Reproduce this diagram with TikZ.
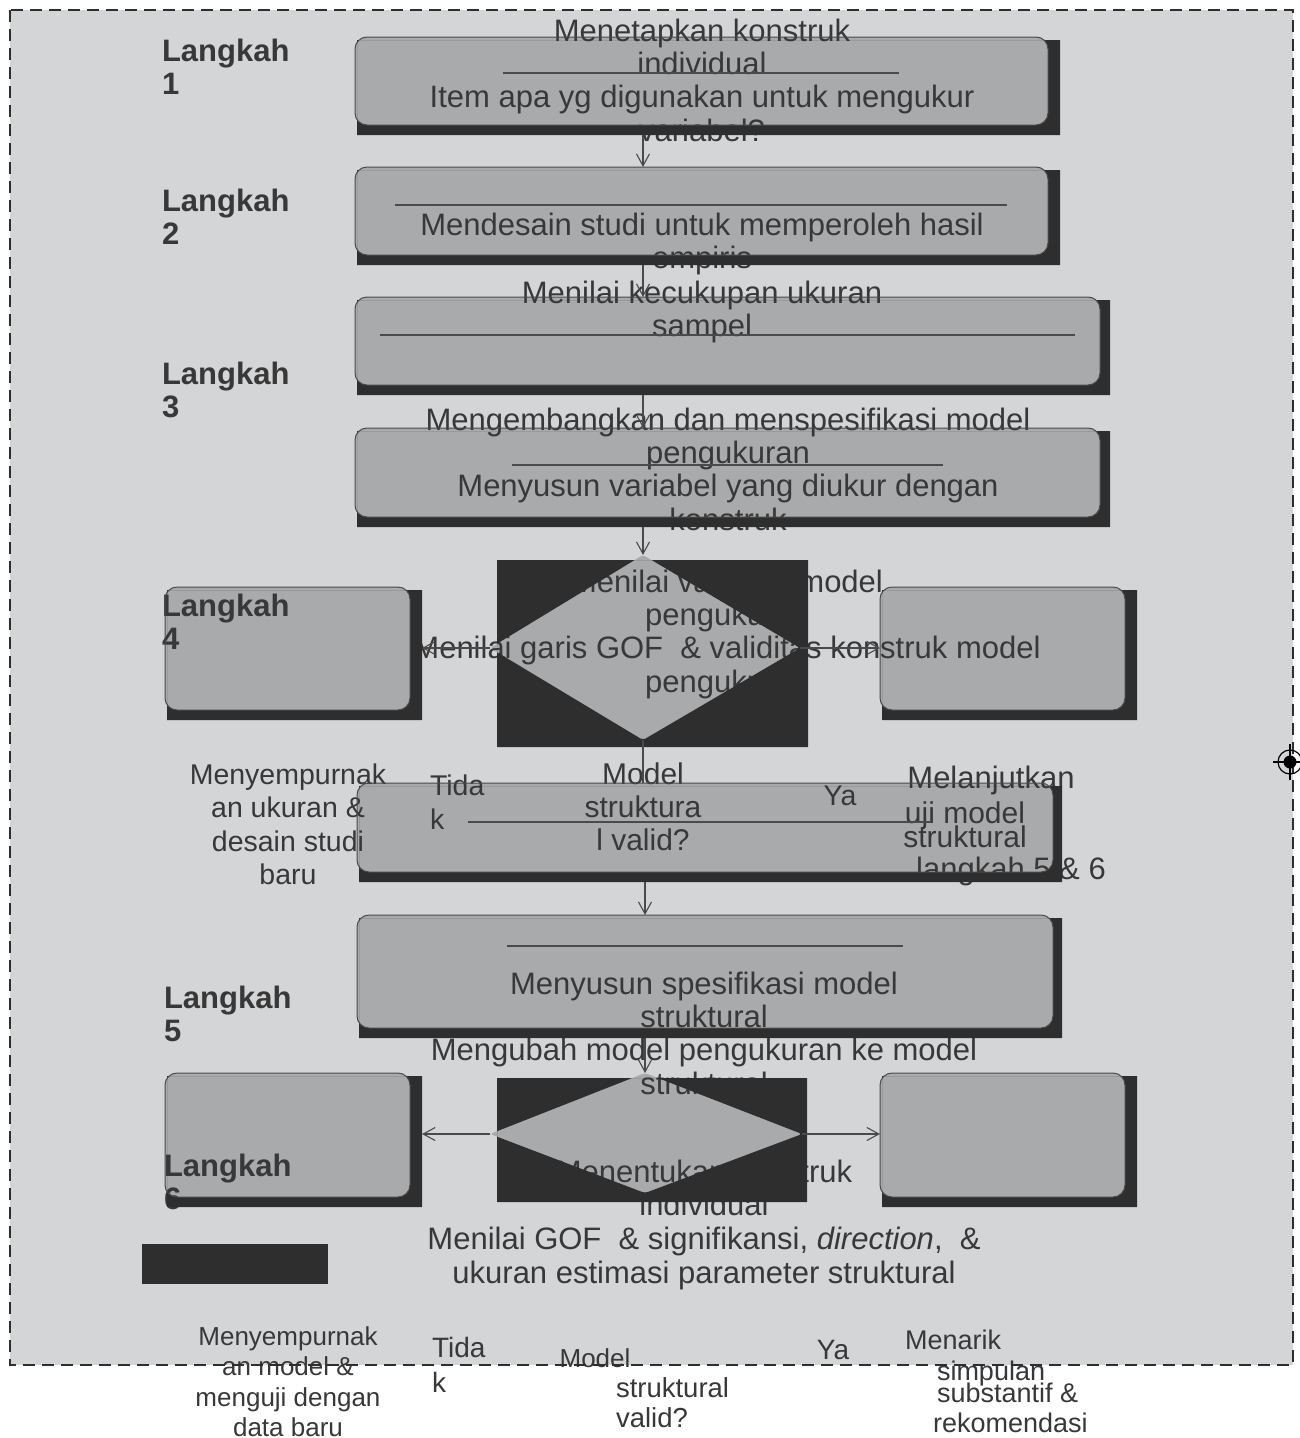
\documentclass[tikz,border=0pt]{standalone}
\usepackage{fontspec}
\setmainfont{Liberation Sans}
\usetikzlibrary{arrows.meta,fit}
\definecolor{bgcol}{HTML}{D4D5D7}
\definecolor{boxcol}{HTML}{A9AAAC}
\definecolor{darkcol}{HTML}{2E2E2E}
\definecolor{inkcol}{HTML}{383838}
\definecolor{edgecol}{HTML}{4A4A4A}

\tikzset{
  boxfill/.style={fit={#1}, inner sep=0pt, outer sep=0pt, rounded corners=12pt, fill=boxcol},
  boxgeom/.style={fit={#1}, inner sep=0pt, outer sep=0pt},
  txt/.style={font=\fontsize{31}{33.4}\selectfont, text=inkcol, inner sep=0pt, outer sep=0pt, anchor=base, align=center},
  ltxt/.style={txt, anchor=base west, align=left},
  stepname/.style={ltxt, font=\fontsize{31}{33.4}\selectfont\bfseries},
  strike/.style={draw=edgecol, line width=1.2pt},
  arr/.style={draw=edgecol, line width=1.1pt, -{Straight Barb[length=12pt,width=13pt]}},
  conn/.style={draw=edgecol, line width=1.1pt},
  frame/.style={draw=darkcol, line width=2.2pt, dash pattern=on 12pt off 7pt}
}

% dark drop shadow of a rounded box, laid over whatever lies beneath it
\newcommand{\boxdrop}[2]{%
  \begin{scope}
    \clip (#2.north west) rectangle (#2.south east);
    \fill[darkcol, even odd rule] (#2.north west) rectangle (#2.south east)
      [rounded corners=12pt] (#1.north west) rectangle (#1.south east);
  \end{scope}
  \draw[edgecol, line width=1pt, rounded corners=12pt] (#1.north west) rectangle (#1.south east);}

% dark square behind a decision diamond, leaving the diamond open
\newcommand{\diamondmask}[5]{%
  \begin{scope}
    \clip (#1.north west) rectangle (#1.south east);
    \fill[darkcol, even odd rule] (#1.north west) rectangle (#1.south east)
      [rounded corners=3pt] (#2) -- (#3) -- (#4) -- (#5) -- cycle;
  \end{scope}}

\begin{document}
\begin{tikzpicture}[x=1pt,y=-1pt]
\useasboundingbox (0,0) rectangle (1299,1438);
\fill[white] (0,0) rectangle (1299,1438);
\fill[bgcol] (10,10) rectangle (1293,1365);

% ---- box faces
\node[boxfill={(355,37) (1048,125)}] (b1) {};
\node[boxfill={(355,167) (1048,255)}] (b2) {};
\node[boxfill={(355,297) (1100,385)}] (b3) {};
\node[boxfill={(355,428) (1100,517)}] (b4) {};
\node[boxfill={(165,587) (410,710)}] (l4) {};
\node[boxfill={(880,587) (1125,710)}] (r4) {};
\node[boxfill={(357,783) (1053,872)}] (mv) {};
\node[boxfill={(357,915) (1053,1028)}] (b5) {};
\node[boxfill={(165,1073) (410,1197)}] (l6) {};
\node[boxfill={(880,1073) (1125,1197)}] (r6) {};

% ---- shadow extents
\node[boxgeom={(357,40) (1060,135)}] (s1) {};
\node[boxgeom={(357,170) (1060,265)}] (s2) {};
\node[boxgeom={(357,300) (1110,395)}] (s3) {};
\node[boxgeom={(357,431) (1110,527)}] (s4) {};
\node[boxgeom={(167,590) (422,720)}] (sl4) {};
\node[boxgeom={(882,590) (1137,720)}] (sr4) {};
\node[boxgeom={(359,786) (1062,882)}] (smv) {};
\node[boxgeom={(359,918) (1062,1038)}] (s5) {};
\node[boxgeom={(167,1076) (422,1207)}] (sl6) {};
\node[boxgeom={(882,1076) (1137,1207)}] (sr6) {};

% ---- decision diamonds
\coordinate (d1t) at (643,555);
\coordinate (d1r) at (800,648);
\coordinate (d1b) at (643,740);
\coordinate (d1l) at (490,648);
\coordinate (d2t) at (645,1073);
\coordinate (d2r) at (802,1134);
\coordinate (d2b) at (645,1193);
\coordinate (d2l) at (490,1134);
\fill[boxcol, rounded corners=3pt] (d1t) -- (d1r) -- (d1b) -- (d1l) -- cycle;
\fill[boxcol, rounded corners=3pt] (d2t) -- (d2r) -- (d2b) -- (d2l) -- cycle;
\node[boxgeom={(497,560) (808,747)}] (d1bg) {};
\node[boxgeom={(497,1078) (807,1202)}] (d2bg) {};

% ---- step labels (a node's base is the baseline of its last line)
\node[stepname] (k1) at (162,94.4) {Langkah\\1};
\node[stepname] (k2) at (162,244.4) {Langkah\\2};
\node[stepname] (k3) at (162,417.4) {Langkah\\3};
\node[stepname] (k4) at (162,649.4) {Langkah\\4};
\node[stepname] (k5) at (164,1041.4) {Langkah\\5};
\node[stepname] (k6) at (164,1209.4) {Langkah\\6};

% ---- texts
\node[txt] (t1) at (702,141.2) {Menetapkan konstruk\\individual\\Item apa yg digunakan untuk mengukur\\variabel?};
\node[txt] (t2) at (702,268.4) {Mendesain studi untuk memperoleh hasil\\empiris};
\node[txt] (t3) at (702,336.4) {Menilai kecukupan ukuran\\sampel};
\node[txt] (t4) at (728,530.2) {Mengembangkan dan menspesifikasi model\\pengukuran\\Menyusun variabel yang diukur dengan\\konstruk};
\node[txt] (t5) at (727,692.2) {Menilai validitas model\\pengukuran\\Menilai garis GOF \ \& validitas konstruk model\\pengukuran};
\node[txt, font=\fontsize{28.5}{33.6}\selectfont] (t6) at (288,884.8) {Menyempurnak\\an ukuran \&\\desain studi\\baru};
\node[ltxt, font=\fontsize{28.5}{34}\selectfont] (t7) at (430,829) {Tida\\k};
\node[txt, font=\fontsize{30}{33.4}\selectfont] (t8) at (643,850.8) {Model\\struktura\\l valid?};
\node[txt, font=\fontsize{28.5}{34}\selectfont] (t9) at (840,805) {Ya};
\node[txt] (t10a) at (991,788) {Melanjutkan};
\node[txt, font=\fontsize{30}{33.4}\selectfont] (t10b) at (965,823) {uji model};
\node[txt, font=\fontsize{30}{33.4}\selectfont] (t10c) at (965,847) {struktural};
\node[txt] (t10d) at (1011,879) {langkah 5 \& 6};
\node[txt] (t11) at (704,1094.2) {Menyusun spesifikasi model\\struktural\\Mengubah model pengukuran ke model\\struktural};
\node[txt, font=\fontsize{31}{33.7}\selectfont] (t12) at (704,1283.1) {Menentukan konstruk\\individual\\Menilai GOF \ \& signifikansi, \textit{direction}, \ \&\\ukuran estimasi parameter struktural};

% ---- texts along the foot
\node[txt, font=\fontsize{26}{30.3}\selectfont] (f1) at (288,1436.5) {Menyempurnak\\an model \&\\menguji dengan\\data baru};
\node[ltxt, font=\fontsize{28}{35}\selectfont] (f2) at (432,1392) {Tida\\k};
\node[txt, font=\fontsize{26}{30}\selectfont] (f3) at (595,1367) {Model};
\node[ltxt, font=\fontsize{27.5}{30}\selectfont] (f4) at (616,1427) {struktural\\valid?};
\node[txt, font=\fontsize{28}{30}\selectfont] (f5) at (833,1359) {Ya};
\node[ltxt, font=\fontsize{27}{30}\selectfont] (f6a) at (905,1349) {Menarik};
\node[ltxt, font=\fontsize{27}{30}\selectfont] (f6b) at (937,1380) {simpulan};
\node[ltxt, font=\fontsize{27}{30}\selectfont] (f6c) at (937,1402) {substantif \&};
\node[ltxt, font=\fontsize{27}{30}\selectfont] (f6d) at (933,1432) {rekomendasi};

% ---- shadows and diamond masks over the texts
\boxdrop{b1}{s1}
\boxdrop{b2}{s2}
\boxdrop{b3}{s3}
\boxdrop{b4}{s4}
\boxdrop{l4}{sl4}
\boxdrop{r4}{sr4}
\boxdrop{mv}{smv}
\boxdrop{b5}{s5}
\boxdrop{l6}{sl6}
\boxdrop{r6}{sr6}
\diamondmask{d1bg}{d1t}{d1r}{d1b}{d1l}
\diamondmask{d2bg}{d2t}{d2r}{d2b}{d2l}
\node[boxgeom={(142,1244) (328,1284)}, fill=darkcol] (bar) {};

% ---- rules between title and question lines
\draw[strike] (503,73) -- (899,73);
\draw[strike] (395,205) -- (1007,205);
\draw[strike] (380,335) -- (1075,335);
\draw[strike] (512,465) -- (943,465);
\draw[strike] (468,822) -- (930,822);
\draw[strike] (507,946) -- (903,946);

% ---- connectors
\coordinate (ax) at (643,0);
\coordinate (ax2) at (645,0);
\draw[arr] (s1.south -| ax) -- (b2.north -| ax);
\draw[arr] (s2.south -| ax) -- (b3.north -| ax);
\draw[arr] (s3.south -| ax) -- (b4.north -| ax);
\draw[arr] (s4.south -| ax) -- (d1t);
\draw[arr] (d1l) -- (sl4.east |- d1l);
\draw[arr] (d1r) -- (r4.west |- d1r);
\draw[conn] (d1b) -- (mv.north -| d1b);
\draw[arr] (smv.south -| ax2) -- (b5.north -| ax2);
\draw[arr] (s5.south -| ax2) -- (d2t);
\draw[arr] (d2l) -- (sl6.east |- d2l);
\draw[arr] (d2r) -- (r6.west |- d2r);

% ---- dashed frame
\draw[frame] (10,10) rectangle (1293,1365);

% ---- registration mark on the right edge
\node[circle, draw=black, line width=1.2pt, minimum size=24pt, inner sep=0pt] (mark) at (1290,762) {};
\fill[black] (mark.center) circle (6.5pt);
\draw[black, line width=1.2pt] (mark.center) ++(0,-18) -- ++(0,36);
\draw[black, line width=1.2pt] (mark.center) ++(-17,0) -- ++(34,0);
\end{tikzpicture}
\end{document}
